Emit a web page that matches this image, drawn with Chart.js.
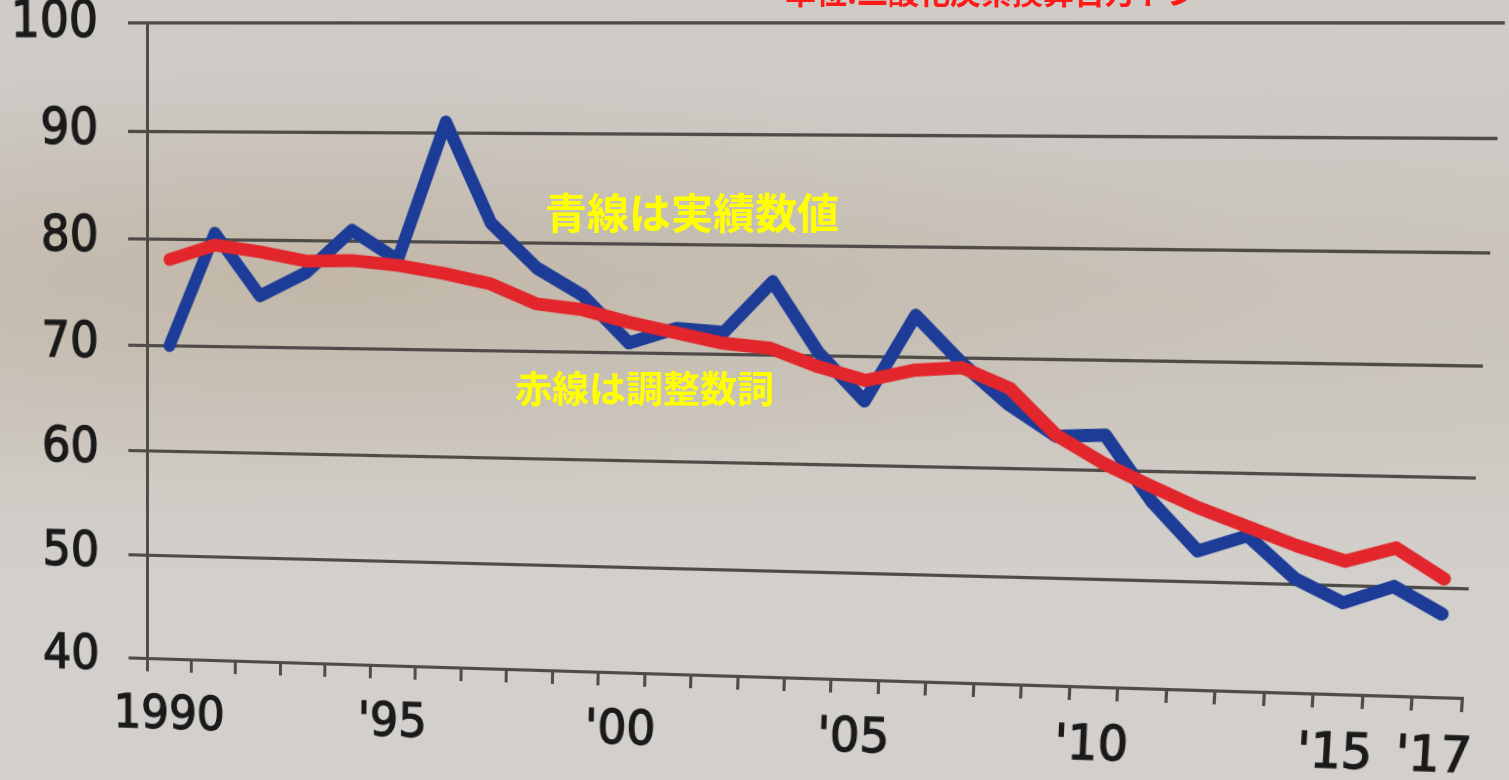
<!DOCTYPE html>
<html lang="ja">
<head>
<meta charset="utf-8">
<title>温室効果ガス排出量の推移</title>
<script src="https://cdn.jsdelivr.net/npm/chart.js@4.4.1/dist/chart.umd.min.js"></script>
<style>
  html, body { margin: 0; padding: 0; }
  body {
    width: 1509px; height: 780px; overflow: hidden; position: relative;
    background:
      radial-gradient(ellipse 950px 210px at 330px 280px, rgba(186,172,152,0.55), rgba(186,172,152,0) 100%),
      radial-gradient(ellipse 700px 180px at 1150px 300px, rgba(196,188,176,0.35), rgba(196,188,176,0) 100%),
      linear-gradient(180deg, #cfccc8 0%, #cdc9c4 18%, #cbc5bd 35%, #cdc8c1 55%, #d3d0cc 75%, #d2cfcc 100%);
  }
  #chart { position: absolute; left: 0; top: 0; transform-origin: 0 0; }
  .note { position: absolute; font-family: "Noto Sans CJK JP", sans-serif; font-weight: 700; white-space: nowrap; line-height: 1; }
  #unit { left: 785px; top: -25px; font-size: 31px; color: #ff1a1a; }
  #noteBlue { left: 545px; top: 190px; font-size: 42px; color: #ffff00; }
  #noteRed { left: 515px; top: 369px; font-size: 37px; color: #ffff00; }
</style>
</head>
<body>
<canvas id="chart" width="1509" height="780"></canvas>
<div class="note" id="unit">単位:二酸化炭素換算百万トン</div>
<div class="note" id="noteBlue">青線は実績数値</div>
<div class="note" id="noteRed">赤線は調整数詞</div>
<script>
// Fiscal years 1990–2017
const years = [1990, 1991, 1992, 1993, 1994, 1995, 1996, 1997, 1998, 1999,
               2000, 2001, 2002, 2003, 2004, 2005, 2006, 2007, 2008, 2009,
               2010, 2011, 2012, 2013, 2014, 2015, 2016, 2017];

// Labels shown under the axis (blank years keep their tick marks)
const tickLabels = ['1990', '', '', '', '', "'95", '', '', '', '',
                    "'00", '', '', '', '', "'05", '', '', '', '',
                    "'10", '', '', '', '', "'15", '', "'17"];

// Blue: actual figures
const actualValues = [70.0, 80.6, 74.8, 77.0, 81.0, 78.3, 91.0, 81.8, 77.7, 75.2,
                      70.9, 72.3, 72.0, 76.7, 70.3, 65.9, 73.8, 69.5, 65.8, 63.0,
                      63.2, 57.3, 52.8, 54.3, 50.5, 48.4, 50.0, 47.6];

// Red: adjusted figures
const adjustedValues = [78.1, 79.5, 78.9, 78.1, 78.2, 77.8, 77.1, 76.2, 74.4, 73.9,
                        72.8, 71.9, 71.0, 70.6, 69.0, 67.8, 68.8, 69.1, 67.3, 63.1,
                        60.6, 58.6, 56.7, 55.1, 53.5, 52.2, 53.5, 50.8];

// Value axis ticks
const yMin = 40, yMax = 100, yStep = 10;

const inkColor = '#4f4c48';
const labelColor = '#1a1a1a';

const chart = new Chart(document.getElementById('chart'), {
  type: 'line',
  data: {
    labels: years,
    datasets: [
      {
        label: '調整数詞',
        data: adjustedValues,
        borderColor: '#e2262b',
        borderWidth: 12,
        borderCapStyle: 'round',
        borderJoinStyle: 'round',
        pointRadius: 0,
        tension: 0,
        order: 0
      },
      {
        label: '実績数値',
        data: actualValues,
        borderColor: '#1c3c98',
        borderWidth: 12,
        borderCapStyle: 'round',
        borderJoinStyle: 'round',
        pointRadius: 0,
        tension: 0,
        order: 1
      }
    ]
  },
  options: {
    responsive: false,
    animation: false,
    events: [],
    layout: { padding: { top: 0, right: 89, bottom: 0, left: 0 } },
    plugins: { legend: { display: false }, tooltip: { enabled: false } },
    scales: {
      x: {
        type: 'category',
        offset: true,
        afterFit: (scale) => { scale.height = 123; },
        grid: {
          offset: true,
          drawOnChartArea: false,
          drawTicks: true,
          tickLength: 13,
          color: inkColor,
          lineWidth: 3
        },
        border: { display: true, color: inkColor, width: 3 },
        ticks: {
          autoSkip: false,
          maxRotation: 0,
          minRotation: 0,
          padding: 16,
          color: labelColor,
          textStrokeColor: labelColor,
          textStrokeWidth: 1.3,
          font: { family: 'DejaVu Sans', size: 45 },
          callback: (value, index) => tickLabels[index]
        }
      },
      y: {
        min: yMin,
        max: yMax,
        afterFit: (scale) => { scale.width = 147; },
        grid: {
          drawTicks: true,
          tickLength: 19,
          color: inkColor,
          lineWidth: 3
        },
        border: { display: true, color: inkColor, width: 3 },
        ticks: {
          stepSize: yStep,
          padding: 30,
          color: labelColor,
          textStrokeColor: labelColor,
          textStrokeWidth: 1.3,
          font: { family: 'DejaVu Sans', size: 46 }
        }
      }
    }
  }
});

// Solve the 8 unknowns of a plane projective map from four point pairs
function projectiveMap(src, dst) {
  const A = [], b = [];
  for (let i = 0; i < 4; i++) {
    const [x, y] = src[i], [u, v] = dst[i];
    A.push([x, y, 1, 0, 0, 0, -u * x, -u * y]); b.push(u);
    A.push([0, 0, 0, x, y, 1, -v * x, -v * y]); b.push(v);
  }
  const n = 8;
  for (let c = 0; c < n; c++) {
    let p = c;
    for (let r = c + 1; r < n; r++) if (Math.abs(A[r][c]) > Math.abs(A[p][c])) p = r;
    [A[c], A[p]] = [A[p], A[c]]; [b[c], b[p]] = [b[p], b[c]];
    for (let r = 0; r < n; r++) {
      if (r === c) continue;
      const f = A[r][c] / A[c][c];
      for (let k = c; k < n; k++) A[r][k] -= f * A[c][k];
      b[r] -= f * b[c];
    }
  }
  return b.map((val, i) => val / A[i][i]);
}

// Perspective tilt of the whole sheet: plot-area corners TL, TR, BR, BL
const tiltedCorners = [[147, 23], [1505, 23], [1462, 698], [147, 658]];
const area = chart.chartArea;
const h = projectiveMap(
  [[area.left, area.top], [area.right, area.top], [area.right, area.bottom], [area.left, area.bottom]],
  tiltedCorners
);
document.getElementById('chart').style.transform =
  `matrix3d(${h[0]},${h[3]},0,${h[6]},${h[1]},${h[4]},0,${h[7]},0,0,1,0,${h[2]},${h[5]},0,1)`;
</script>
</body>
</html>
